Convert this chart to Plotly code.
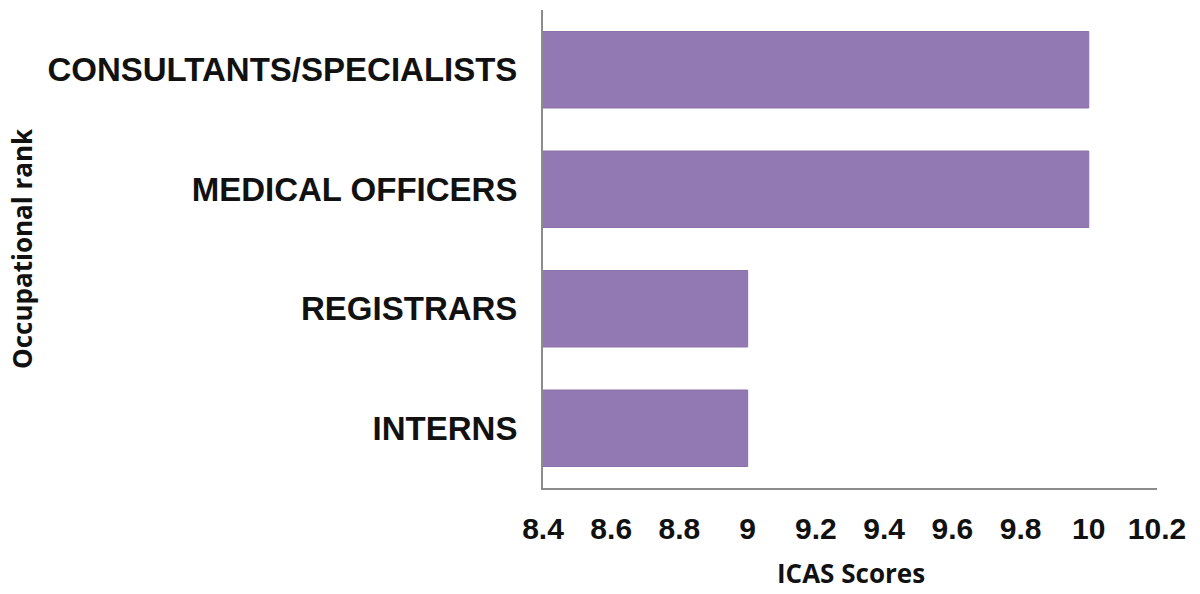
import plotly.graph_objects as go

categories = ["CONSULTANTS/SPECIALISTS", "MEDICAL OFFICERS", "REGISTRARS", "INTERNS"]
scores = [10, 10, 9, 9]
tick_vals = [8.4, 8.6, 8.8, 9.0, 9.2, 9.4, 9.6, 9.8, 10.0, 10.2]
tick_text = ["8.4", "8.6", "8.8", "9", "9.2", "9.4", "9.6", "9.8", "10", "10.2"]
x_title = "ICAS Scores"
y_title = "Occupational rank"

L, R, T, B = 543, 43, 10, 106
W, H = 1200, 594
pw, ph = W - L - R, H - T - B

fig = go.Figure(go.Bar(
    y=categories, x=scores, orientation="h",
    marker=dict(color="#9279B3", line=dict(color="#8A72AA", width=1)),
))

fig.update_layout(
    width=W, height=H,
    margin=dict(l=L, r=R, t=T, b=B, autoexpand=False),
    paper_bgcolor="white", plot_bgcolor="white",
    bargap=0.36, showlegend=False,
    font=dict(family="Liberation Sans", color="black"),
)
fig.update_xaxes(
    range=[8.4, 10.2], tickvals=tick_vals, ticktext=tick_text,
    showgrid=False, zeroline=False, automargin=False,
    showline=True, linecolor="#8c8c8c", linewidth=2,
    ticks="", ticklabelstandoff=13,
    tickfont=dict(family="Liberation Sans", size=30, color="#111111", weight="bold"),
)
fig.update_yaxes(
    autorange="reversed", automargin=False,
    showgrid=False, zeroline=False,
    showline=True, linecolor="#8c8c8c", linewidth=2,
    ticks="", ticklabelstandoff=17,
    tickfont=dict(family="Liberation Sans", size=33, color="#111111", weight="bold"),
)
fig.add_annotation(
    text=x_title, xref="paper", yref="paper",
    x=(851 - L) / pw, y=(H - B - 573) / ph, xanchor="center", yanchor="middle",
    showarrow=False,
    font=dict(family="Open Sans", size=26, color="#111111", weight="bold"),
)
fig.add_annotation(
    text=y_title, xref="paper", yref="paper",
    x=(22 - L) / pw, y=(H - B - 249) / ph, xanchor="center", yanchor="middle",
    textangle=-90, showarrow=False,
    font=dict(family="Open Sans", size=26, color="#111111", weight="bold"),
)

fig.write_html("out.html", config={"displayModeBar": False},
               post_script="document.body.style.margin='0';")
